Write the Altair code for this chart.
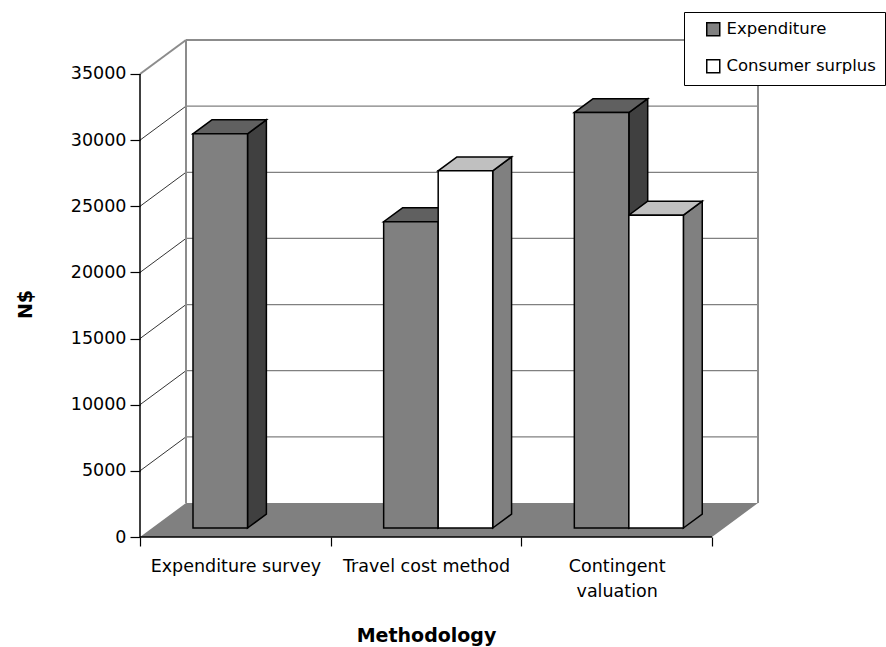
import json
import altair as alt
import pandas as pd

# ---- data -------------------------------------------------------------
categories = [["Expenditure survey"], ["Travel cost method"], ["Contingent", "valuation"]]
series = ["Expenditure", "Consumer surplus"]
expenditure = [29800, 23150, 31400]
consumer_surplus = [None, 27000, 23650]
y_ticks = [0, 5000, 10000, 15000, 20000, 25000, 30000, 35000]

# ---- oblique 3-D box, expressed in data units --------------------------
Y_MAX = 35000
N = len(categories)
DEPTH_X = 0.2413      # depth of the box along x (category units)
DEPTH_Y = 2570        # depth of the box along y (N$)
BAR_W = 0.286         # bar width (category units)
BAR_FRONT = 0.265     # depth fraction where bar fronts sit
BAR_DEPTH = 0.41      # depth fraction occupied by each bar

FONT = "DejaVu Sans"
front_colors = {"Expenditure": "#808080", "Consumer surplus": "#ffffff"}
side_colors = {"Expenditure": "#404040", "Consumer surplus": "#808080"}
top_colors = {"Expenditure": "#606060", "Consumer surplus": "#c0c0c0"}

# ---- bar faces ---------------------------------------------------------
fronts, sides, tops = [], [], []
sx, sy = BAR_FRONT * DEPTH_X, BAR_FRONT * DEPTH_Y
bx, by = BAR_DEPTH * DEPTH_X, BAR_DEPTH * DEPTH_Y
for s_idx, (name, vals) in enumerate(zip(series, [expenditure, consumer_surplus])):
    for i, v in enumerate(vals):
        if v is None:
            continue
        bid = f"{name}-{i}"
        x0 = i + 0.5 - BAR_W + s_idx * BAR_W + sx
        x1 = x0 + BAR_W
        fronts.append(dict(id=bid, series=name, x=x0, x2=x1, y=sy, y2=v + sy))
        sides.append(dict(id=bid, series=name, x=x1, y=sy, y2=v + sy))
        sides.append(dict(id=bid, series=name, x=x1 + bx, y=sy + by, y2=v + sy + by))
        tops.append(dict(id=bid, series=name, y=v + sy, x=x0, x2=x1))
        tops.append(dict(id=bid, series=name, y=v + sy + by, x=x0 + bx, x2=x1 + bx))
fronts, sides, tops = pd.DataFrame(fronts), pd.DataFrame(sides), pd.DataFrame(tops)

# ---- walls, floor and axis lines ---------------------------------------
floor = pd.DataFrame([dict(y=0, x=0, x2=N), dict(y=DEPTH_Y, x=DEPTH_X, x2=N + DEPTH_X)])
borders = pd.DataFrame([
    dict(x=DEPTH_X, x2=N + DEPTH_X, y=Y_MAX + DEPTH_Y, y2=Y_MAX + DEPTH_Y),
    dict(x=DEPTH_X, x2=DEPTH_X, y=DEPTH_Y, y2=Y_MAX + DEPTH_Y),
    dict(x=N + DEPTH_X, x2=N + DEPTH_X, y=DEPTH_Y, y2=Y_MAX + DEPTH_Y),
    dict(x=0, x2=DEPTH_X, y=Y_MAX, y2=Y_MAX + DEPTH_Y),
])
inner = [t for t in y_ticks if 0 < t < Y_MAX]
back_grid = pd.DataFrame([dict(x=DEPTH_X, x2=N + DEPTH_X, y=t + DEPTH_Y, y2=t + DEPTH_Y) for t in inner])
side_grid = pd.DataFrame([dict(x=0, x2=DEPTH_X, y=t, y2=t + DEPTH_Y) for t in inner])
axis_lines = pd.DataFrame([dict(x=0, x2=0, y=0, y2=Y_MAX), dict(x=0, x2=N, y=0, y2=0)])

# ---- scales and axes ---------------------------------------------------
xs = alt.Scale(domain=[0, N + DEPTH_X], nice=False, zero=False)
ys = alt.Scale(domain=[0, Y_MAX + DEPTH_Y], nice=False, zero=False)

label_expr = "''"
for i, lines in reversed(list(enumerate(categories))):
    lab = json.dumps(lines[0]) if len(lines) == 1 else json.dumps(lines)
    label_expr = f"datum.value === {i + 0.5} ? {lab} : ({label_expr})"

x_axis = alt.Axis(
    values=[k / 2 for k in range(2 * N + 1)],
    labelExpr=label_expr,
    domain=False, grid=False,
    tickColor="black", tickWidth=1.2, tickSize=9,
    tickOpacity={"condition": {"test": "datum.value % 1 !== 0", "value": 0}, "value": 1},
    labelPadding=11, labelFont=FONT, labelFontSize=17.5, labelColor="black",
    labelLineHeight=25, labelOverlap=False, labelFlush=False, labelBound=False,
    title="Methodology", titleFont=FONT, titleFontSize=19, titleFontWeight="bold",
    titleColor="black", titleX=286, titleY=104, titleAlign="center",
    titleBaseline="alphabetic",
)
y_axis = alt.Axis(
    values=y_ticks, format="d",
    domain=False, grid=False,
    tickColor="black", tickWidth=1.2, tickSize=10,
    labelPadding=4, labelFont=FONT, labelFontSize=17.5, labelColor="black",
    labelOverlap=False, labelBound=False,
    title="N$", titleFont=FONT, titleFontSize=19, titleFontWeight="bold",
    titleColor="black", titleAngle=270, titleX=-109, titleY=264,
    titleAlign="center", titleBaseline="alphabetic",
)


def X(field):
    return alt.X(f"{field}:Q", scale=xs, axis=x_axis)


def Y(field):
    return alt.Y(f"{field}:Q", scale=ys, axis=y_axis)


def rules(df, color, width):
    return alt.Chart(df).mark_rule(color=color, strokeWidth=width).encode(
        x=X("x"), x2="x2", y=Y("y"), y2="y2"
    )


layers = [
    rules(back_grid, "#808080", 1.2),
    rules(side_grid, "#000000", 0.8),
    rules(borders, "#8c8c8c", 2),
    alt.Chart(floor).mark_area(orient="horizontal", fill="#808080", strokeWidth=0).encode(
        y=Y("y"), x=X("x"), x2="x2"
    ),
    rules(axis_lines, "#000000", 1.5),
]

for name in series:
    d = sides[sides.series == name]
    layers.append(
        alt.Chart(d).mark_area(orient="vertical", fill=side_colors[name], stroke="black",
                               strokeWidth=1.5, fillOpacity=1).encode(
            x=X("x"), y=Y("y"), y2="y2", detail="id:N"
        )
    )
for name in series:
    d = tops[tops.series == name]
    layers.append(
        alt.Chart(d).mark_area(orient="horizontal", fill=top_colors[name], stroke="black",
                               strokeWidth=1.5, fillOpacity=1).encode(
            y=Y("y"), x=X("x"), x2="x2", detail="id:N"
        )
    )

layers.append(
    alt.Chart(fronts).mark_rect(stroke="black", strokeWidth=1.5).encode(
        x=X("x"), x2="x2", y=Y("y"), y2="y2",
        fill=alt.Fill(
            "series:N",
            scale=alt.Scale(domain=series, range=[front_colors[s] for s in series]),
            legend=alt.Legend(
                title=None, orient="none", legendX=544, legendY=-28,
                direction="vertical",
                strokeColor="black", fillColor="white", padding=9,
                symbolType="square", symbolSize=169, symbolStrokeColor="black",
                symbolStrokeWidth=1.5, symbolOffset=12, labelOffset=5,
                rowPadding=17, labelFont=FONT, labelFontSize=16.5, labelColor="black",
                labelLimit=300,
            ),
        ),
    )
)

chart = (
    alt.layer(*layers)
    .properties(
        width=618, height=497,
        autosize=alt.AutoSizeParams(type="none"),
        padding={"left": 140, "top": 40, "right": 128, "bottom": 110},
        background="white",
    )
    .configure_view(stroke=None)
)

chart.save("out.html", embed_options={"renderer": "svg", "actions": False})
